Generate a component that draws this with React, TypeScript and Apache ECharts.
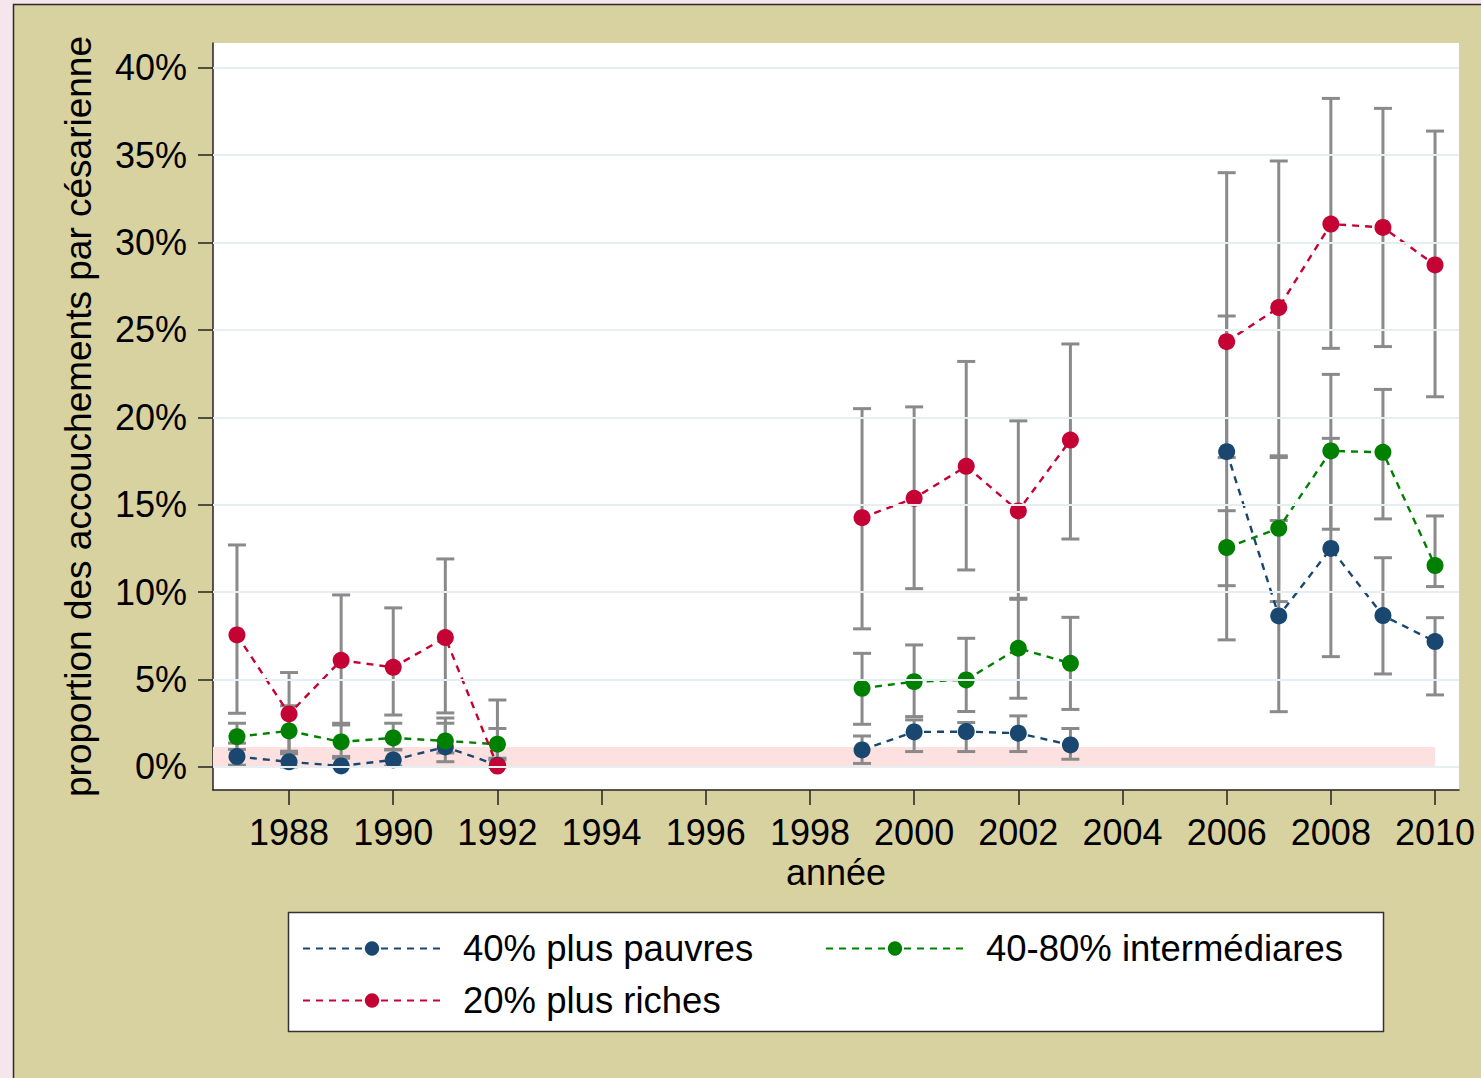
import React, { useEffect, useRef } from "react";
import * as echarts from "echarts";

// ---- Data ----
const years = [1987, 1988, 1989, 1990, 1991, 1992, 1999, 2000, 2001, 2002, 2003, 2006, 2007, 2008, 2009, 2010];

const poorName = "40% plus pauvres";
const poorVal = [0.59, 0.29, 0.06, 0.4, 1.14, 0.1, 0.97, 2.0, 2.02, 1.93, 1.26, 18.04, 8.64, 12.5, 8.66, 7.17];
const poorLo = [0.1, 0.0, 0.0, 0.05, 0.3, 0.0, 0.2, 0.88, 0.88, 0.88, 0.44, 7.27, 3.16, 6.31, 5.32, 4.12];
const poorHi = [1.36, 0.75, 0.5, 1.0, 2.5, 0.4, 1.77, 2.69, 2.54, 2.92, 2.2, 25.8, 14.1, 18.8, 11.97, 8.54];

const midName = "40-80% intermédiares";
const midVal = [1.73, 2.06, 1.43, 1.66, 1.49, 1.3, 4.5, 4.88, 4.98, 6.79, 5.93, 12.55, 13.65, 18.08, 18.0, 11.52];
const midLo = [1.0, 0.8, 0.6, 0.97, 0.8, 0.5, 2.44, 2.88, 3.17, 3.93, 3.29, 10.37, 9.46, 13.6, 14.19, 10.32];
const midHi = [2.5, 3.5, 2.4, 2.5, 2.8, 2.2, 6.5, 6.98, 7.36, 9.65, 8.56, 14.66, 17.7, 22.46, 21.6, 14.36];

const richName = "20% plus riches";
const richVal = [7.55, 3.03, 6.1, 5.7, 7.4, 0.05, 14.26, 15.37, 17.2, 14.65, 18.7, 24.33, 26.28, 31.06, 30.87, 28.72];
const richLo = [3.07, 0.9, 2.5, 2.97, 3.09, 0.0, 7.9, 10.2, 11.27, 9.59, 13.04, 17.7, 17.8, 23.95, 24.05, 21.18];
const richHi = [12.7, 5.4, 9.84, 9.1, 11.9, 3.83, 20.5, 20.6, 23.2, 19.8, 24.2, 34.0, 34.67, 38.25, 37.68, 36.38];

const xTicks = [1988, 1990, 1992, 1994, 1996, 1998, 2000, 2002, 2004, 2006, 2008, 2010];
const yTicks = [0, 5, 10, 15, 20, 25, 30, 35, 40];

const X_MIN = 1986.54;
const X_MAX = 2010.46;
const Y_MIN = -1.32;
const Y_MAX = 41.42;
const BAND_X_END = 2010;
const BAND_Y_TOP = 1.14;

const FONT = "'Liberation Sans', Arial, sans-serif";

function lineData(vals: number[]) {
  const out: any[] = [];
  for (let i = 0; i < years.length; i++) {
    if (i > 0 && years[i] - years[i - 1] > 1) out.push([years[i] - 1, null]);
    out.push([years[i], vals[i]]);
  }
  return out;
}

function errData(lo: number[], hi: number[]) {
  return years.map((y, i) => [y, lo[i], hi[i]]);
}

const errRender = (params: any, api: any) => {
  const x = api.value(0);
  const p1 = api.coord([x, api.value(1)]);
  const p2 = api.coord([x, api.value(2)]);
  const cap = 9;
  const style = { stroke: "#8a8a8a", lineWidth: 3 };
  return {
    type: "group",
    children: [
      { type: "line", shape: { x1: p1[0], y1: p1[1], x2: p2[0], y2: p2[1] }, style },
      { type: "line", shape: { x1: p1[0] - cap, y1: p1[1], x2: p1[0] + cap, y2: p1[1] }, style },
      { type: "line", shape: { x1: p2[0] - cap, y1: p2[1], x2: p2[0] + cap, y2: p2[1] }, style },
    ],
  };
};

export default function App() {
  const ref = useRef<HTMLDivElement>(null);
  useEffect(() => {
    if (!ref.current) return;
    const chart = echarts.init(ref.current, null, { renderer: "svg" });
    const lineStyleBase = { type: [7, 6] as any, width: 2.4 };
    const legendBase = {
      padding: 0,
      itemWidth: 138,
      itemHeight: 18,
      itemGap: 0,
      selectedMode: false,
      textStyle: { fontSize: 36.5, color: "#000", fontFamily: FONT, padding: [0, 0, 0, 17] },
    };
    chart.setOption({
      animation: false,
      backgroundColor: "#f4e6ec",
      textStyle: { fontFamily: FONT },
      graphic: [
        {
          type: "rect",
          z: -10,
          shape: { x: 13.5, y: 4.5, width: 1500, height: 1100 },
          style: { fill: "#d8d2a0", stroke: "#2a2a2a", lineWidth: 1.5 },
        },
        {
          type: "rect",
          z: -5,
          shape: { x: 288.5, y: 912.5, width: 1095, height: 119 },
          style: { fill: "#ffffff", stroke: "#333333", lineWidth: 1.5 },
        },
      ],
      grid: {
        left: 213,
        top: 43,
        width: 1246,
        height: 747,
        show: true,
        backgroundColor: "#ffffff",
        borderWidth: 0,
      },
      legend: [
        { ...legendBase, left: 302, top: 930, data: [poorName] },
        { ...legendBase, left: 825, top: 930, data: [midName] },
        { ...legendBase, left: 302, top: 982, data: [richName] },
      ],
      xAxis: {
        type: "value",
        min: X_MIN,
        max: X_MAX,
        name: "année",
        nameLocation: "middle",
        nameGap: 62,
        nameTextStyle: { fontSize: 36, color: "#000", fontFamily: FONT, lineHeight: 36 },
        axisLine: { show: true, onZero: false, lineStyle: { color: "#222", width: 1.5 } },
        axisTick: { show: true, length: 15, customValues: xTicks, lineStyle: { color: "#222", width: 1.5 } },
        axisLabel: {
          customValues: xTicks,
          fontSize: 36,
          color: "#000",
          fontFamily: FONT,
          margin: 24,
          lineHeight: 36,
          formatter: (v: number) => String(v),
        },
        splitLine: { show: false },
      },
      yAxis: {
        type: "value",
        min: Y_MIN,
        max: Y_MAX,
        name: "proportion des accouchements par césarienne",
        nameLocation: "middle",
        nameGap: 117,
        nameTextStyle: { fontSize: 37, color: "#000", fontFamily: FONT, lineHeight: 36 },
        axisLine: { show: true, onZero: false, lineStyle: { color: "#222", width: 1.5 } },
        axisTick: { show: true, length: 15, customValues: yTicks, lineStyle: { color: "#222", width: 1.5 } },
        axisLabel: {
          customValues: yTicks,
          fontSize: 36,
          color: "#000",
          fontFamily: FONT,
          margin: 26,
          formatter: (v: number) => v + "%",
        },
        splitLine: { show: false },
      },
      series: [
        {
          name: "_bg",
          type: "line",
          data: [],
          z: 1,
          silent: true,
          markLine: {
            silent: true,
            symbol: ["none", "none"],
            label: { show: false },
            lineStyle: { type: "solid", color: "#e5eef0", width: 2 },
            data: yTicks.map((t) => ({ yAxis: t })),
          },
          markArea: {
            silent: true,
            itemStyle: { color: "#fde0e0", opacity: 1 },
            data: [[{ xAxis: X_MIN, yAxis: 0 }, { xAxis: BAND_X_END, yAxis: BAND_Y_TOP }]],
          },
        },
        { name: "_e1", type: "custom", z: 2, renderItem: errRender, data: errData(richLo, richHi), silent: true },
        { name: "_e2", type: "custom", z: 2, renderItem: errRender, data: errData(midLo, midHi), silent: true },
        { name: "_e3", type: "custom", z: 2, renderItem: errRender, data: errData(poorLo, poorHi), silent: true },
        {
          name: poorName,
          type: "line",
          z: 3,
          data: lineData(poorVal),
          symbol: "circle",
          symbolSize: 17,
          showAllSymbol: true,
          connectNulls: false,
          itemStyle: { color: "#1a476f" },
          lineStyle: { ...lineStyleBase, color: "#1a476f" },
        },
        {
          name: midName,
          type: "line",
          z: 3,
          data: lineData(midVal),
          symbol: "circle",
          symbolSize: 17,
          showAllSymbol: true,
          connectNulls: false,
          itemStyle: { color: "#008000" },
          lineStyle: { ...lineStyleBase, color: "#008000" },
        },
        {
          name: richName,
          type: "line",
          z: 3,
          data: lineData(richVal),
          symbol: "circle",
          symbolSize: 17,
          showAllSymbol: true,
          connectNulls: false,
          itemStyle: { color: "#c40234" },
          lineStyle: { ...lineStyleBase, color: "#c40234" },
        },
      ],
    });
    return () => chart.dispose();
  }, []);
  return (
    <div
      ref={ref}
      style={{ position: "fixed", left: 0, top: 0, width: 1481, height: 1078 }}
    />
  );
}
